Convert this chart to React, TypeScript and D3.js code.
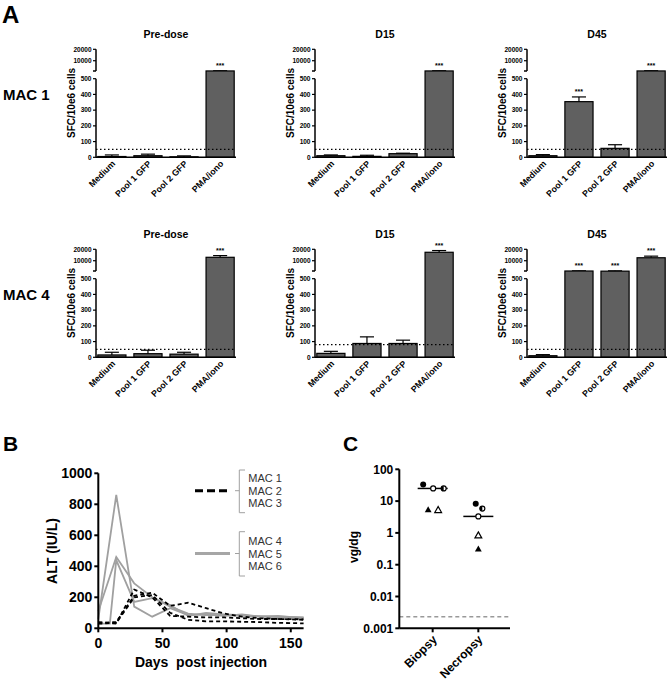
import React from "react";
import * as d3 from "d3";

const FONT = "'Liberation Sans', Arial, Helvetica, sans-serif";

// ---------- panel A : ELISpot bars ----------
const categories = ["Medium", "Pool 1 GFP", "Pool 2 GFP", "PMA/iono"];
const timepoints = ["Pre-dose", "D15", "D45"];
const animals = ["MAC 1", "MAC 4"];

const mac1PreDose = [5, 10, 3, 1050];
const mac1PreDoseErr = [10, 10, 6, 150];
const mac1D15 = [10, 6, 23, 1050];
const mac1D15Err = [5, 7, 3, 150];
const mac1D45 = [10, 354, 57, 1050];
const mac1D45Err = [7, 30, 23, 150];
const mac4PreDose = [15, 23, 20, 13000];
const mac4PreDoseErr = [17, 22, 12, 1500];
const mac4D15 = [25, 88, 88, 17400];
const mac4D15Err = [13, 42, 21, 1500];
const mac4D45 = [10, 1000, 990, 12600];
const mac4D45Err = [7, 150, 150, 1400];

const mac1Stars = [[0, 0, 0, 1], [0, 0, 0, 1], [0, 1, 0, 1]];
const mac4Stars = [[0, 0, 0, 1], [0, 0, 0, 1], [0, 1, 1, 1]];
const mac1Cutoff = [50, 50, 50];
const mac4Cutoff = [50, 80, 50];

const lowerTicks = [0, 100, 200, 300, 400, 500];
const upperTicks = [10000, 20000];

// ---------- panel B : ALT ----------
const mac1Days = [0, 14, 28, 42, 56, 70, 84, 98, 112, 126, 140, 160];
const mac1Alt = [40, 30, 250, 200, 80, 75, 70, 70, 65, 60, 60, 55];
const mac2Days = [0, 14, 28, 42, 56, 70, 84, 98, 112, 126, 140, 160];
const mac2Alt = [35, 40, 210, 230, 145, 165, 130, 95, 75, 65, 60, 58];
const mac3Days = [0, 14, 28, 42, 56, 70, 84, 98, 112, 126, 140, 160];
const mac3Alt = [30, 35, 200, 215, 100, 55, 45, 45, 42, 40, 35, 32];
const mac4Days = [0, 14, 28, 42, 56, 70, 84, 98, 112, 126, 140, 160];
const mac4Alt = [60, 860, 140, 75, 130, 85, 90, 80, 90, 75, 72, 68];
const mac5Days = [0, 14, 28, 42, 56, 70, 84, 98, 112, 126, 140, 160];
const mac5Alt = [110, 460, 290, 200, 140, 95, 85, 85, 80, 78, 75, 70];
const mac6Days = [0, 9, 14, 28, 42, 56, 70, 84, 98, 112, 126, 140, 160];
const mac6Alt = [30, 30, 440, 170, 195, 150, 80, 100, 90, 85, 75, 80, 65];
const altTicks = [0, 200, 400, 600, 800, 1000];
const dayTicks = [0, 50, 100, 150];

// ---------- panel C : vector genomes ----------
const tissues = ["Biopsy", "Necropsy"];
const biopsyVg = [33, 25, 25, 5.3, 5.2];
const necropsyVg = [8.3, 5.8, 3.3, 0.83, 0.31];
const biopsyShapes = ["dot", "ring", "half", "tri", "otri"];
const necropsyShapes = ["dot", "half", "ring", "otri", "tri"];
const biopsyJitter = [-9.5, 0.5, 11, -4.5, 5.5];
const necropsyJitter = [-2.6, 4, 0, 0, 0];
const vgTicks = [0.001, 0.01, 0.1, 1, 10, 100];
const vgTickLabels = ["0.001", "0.01", "0.1", "1", "10", "100"];
const detectionLimit = 0.0023;

function makeBreakY(off: number) {
  const lower = d3.scaleLinear().domain([0, 500]).range([157.3 + off, 78.7 + off]);
  const gap = d3.scaleLinear().domain([500, 1000]).range([78.7 + off, 71 + off]);
  const upper = d3.scaleLinear().domain([1000, 20000]).range([71 + off, 49.3 + off]);
  return (v: number) => (v <= 500 ? lower(v) : v <= 1000 ? gap(v) : upper(v));
}

// rotated label
function Rot({ x, y, angle, children, ...rest }: any) {
  return (
    <g transform={`translate(${x.toFixed(2)},${y.toFixed(2)})`}>
      <g transform={`rotate(${angle})`}>
        <text x={0} y={0} {...rest}>
          {children}
        </text>
      </g>
    </g>
  );
}

function BarPanel({ x0, off, title, values, errors, stars, cutoff }: any) {
  const w = 140;
  const x = d3.scaleBand().domain(categories).range([x0, x0 + w]).paddingInner(0.22).paddingOuter(0.05);
  const y = makeBreakY(off);
  const bw = x.bandwidth();
  const y0 = y(0);
  return (
    <g>
      <text x={x0 + w / 2} y={off + 38} textAnchor="middle" fontSize={10.5} fontWeight="bold">
        {title}
      </text>
      {categories.map((c, i) => {
        const cx = (x(c) as number) + bw / 2;
        const top = y(values[i]);
        const cap = y(values[i] + errors[i]);
        return (
          <g key={c}>
            <line x1={cx} x2={cx} y1={top} y2={cap} stroke="#000" strokeWidth={1.2} />
            <line x1={cx - bw * 0.25} x2={cx + bw * 0.25} y1={cap} y2={cap} stroke="#000" strokeWidth={1.2} />
            <rect x={x(c)} y={top} width={bw} height={y0 - top} fill="#606060" stroke="#000" strokeWidth={1.2} />
            {stars[i] ? (
              <text x={cx} y={cap - 3} textAnchor="middle" fontSize={7} fontWeight="bold">
                ***
              </text>
            ) : null}
            <Rot x={cx + 4} y={y0 + 7} angle={-45} textAnchor="end" fontSize={8.8} fontWeight="bold">
              {c}
            </Rot>
          </g>
        );
      })}
      <line x1={x0} x2={x0 + w} y1={y(cutoff)} y2={y(cutoff)} stroke="#000" strokeWidth={1.3} strokeDasharray="1.5,2.5" />
      {/* broken y axis */}
      <line x1={x0} x2={x0} y1={y(20000)} y2={y(1000)} stroke="#000" strokeWidth={1.5} />
      <line x1={x0} x2={x0} y1={y(500)} y2={y0} stroke="#000" strokeWidth={1.5} />
      <line x1={x0 - 3} x2={x0} y1={y(1000)} y2={y(1000)} stroke="#000" strokeWidth={1.5} />
      <line x1={x0} x2={x0 + w} y1={y0} y2={y0} stroke="#000" strokeWidth={1.5} />
      {[...lowerTicks, ...upperTicks].map((t) => (
        <g key={t}>
          <line x1={x0 - 3} x2={x0} y1={y(t)} y2={y(t)} stroke="#000" strokeWidth={1.2} />
          <text x={x0 - 4.5} y={y(t) + 2.3} textAnchor="end" fontSize={6.5} fontWeight="bold">
            {t}
          </text>
        </g>
      ))}
      <Rot x={x0 - 21} y={off + 103} angle={-90} textAnchor="middle" fontSize={10} fontWeight="bold">
        SFC/10e6 cells
      </Rot>
    </g>
  );
}

function PanelA() {
  const cols = [96, 315, 527];
  const mac1 = [mac1PreDose, mac1D15, mac1D45];
  const mac1E = [mac1PreDoseErr, mac1D15Err, mac1D45Err];
  const mac4 = [mac4PreDose, mac4D15, mac4D45];
  const mac4E = [mac4PreDoseErr, mac4D15Err, mac4D45Err];
  const rows = [
    { v: mac1, e: mac1E, s: mac1Stars, c: mac1Cutoff },
    { v: mac4, e: mac4E, s: mac4Stars, c: mac4Cutoff },
  ];
  return (
    <g>
      <text x={2} y={23} fontSize={24} fontWeight="bold">A</text>
      {rows.map((r, ri) => (
        <g key={ri}>
          <text x={3} y={100 + ri * 200} fontSize={15} fontWeight="bold">
            {animals[ri]}
          </text>
          {timepoints.map((t, ti) => (
            <BarPanel
              key={t}
              x0={cols[ti]}
              off={ri * 200}
              title={t}
              values={r.v[ti]}
              errors={r.e[ti]}
              stars={r.s[ti]}
              cutoff={r.c[ti]}
            />
          ))}
        </g>
      ))}
    </g>
  );
}

function PanelB() {
  const x = d3.scaleLinear().domain([0, 160]).range([98.3, 303.6]);
  const y = d3.scaleLinear().domain([0, 1000]).range([628.3, 473.3]);
  const line = d3
    .line<[number, number]>()
    .x((d) => x(d[0]))
    .y((d) => y(d[1]));
  const dashed = [
    [mac1Days, mac1Alt],
    [mac2Days, mac2Alt],
    [mac3Days, mac3Alt],
  ];
  const solid = [
    [mac4Days, mac4Alt],
    [mac5Days, mac5Alt],
    [mac6Days, mac6Alt],
  ];
  const toPts = (d: number[], v: number[]) => d.map((k, i) => [k, v[i]] as [number, number]);
  const legend = (yc: number, y1: number, y2: number, names: string[], solidLine: boolean) => (
    <g>
      <line
        x1={195}
        x2={230}
        y1={yc}
        y2={yc}
        stroke={solidLine ? "#a6a6a6" : "#000"}
        strokeWidth={3}
        strokeDasharray={solidLine ? undefined : "8,4"}
      />
      <path d={`M245,${y1}H239.3V${y2}H245M235,${yc}H239.3`} fill="none" stroke="#a0a0a0" strokeWidth={1} />
      {names.map((n, i) => (
        <text key={n} x={248.3} y={yc - 12.3 + i * 12.3 + 4} fontSize={11} fill="#333">
          {n}
        </text>
      ))}
    </g>
  );
  return (
    <g>
      <text x={3} y={451} fontSize={21} fontWeight="bold">B</text>
      {solid.map(([d, v], i) => (
        <path key={"s" + i} d={line(toPts(d, v)) as string} fill="none" stroke="#a0a0a0" strokeWidth={1.8} />
      ))}
      {dashed.map(([d, v], i) => (
        <path key={"d" + i} d={line(toPts(d, v)) as string} fill="none" stroke="#000" strokeWidth={1.8} strokeDasharray="4,3" />
      ))}
      <line x1={x(0)} x2={x(0)} y1={y(1000)} y2={y(0)} stroke="#000" strokeWidth={2} />
      <line x1={x(0)} x2={x(160)} y1={y(0)} y2={y(0)} stroke="#000" strokeWidth={2} />
      {altTicks.map((t) => (
        <g key={t}>
          <line x1={x(0) - 4} x2={x(0)} y1={y(t)} y2={y(t)} stroke="#000" strokeWidth={2} />
          <text x={x(0) - 6} y={y(t) + 5} textAnchor="end" fontSize={14} fontWeight="bold">
            {t}
          </text>
        </g>
      ))}
      {dayTicks.map((t) => (
        <g key={t}>
          <line x1={x(t)} x2={x(t)} y1={y(0)} y2={y(0) + 4} stroke="#000" strokeWidth={2} />
          <text x={x(t)} y={y(0) + 20} textAnchor="middle" fontSize={14} fontWeight="bold">
            {t}
          </text>
        </g>
      ))}
      <Rot x={57} y={551} angle={-90} textAnchor="middle" fontSize={14} fontWeight="bold">
        ALT (IU/L)
      </Rot>
      <text x={201} y={667} textAnchor="middle" fontSize={14} fontWeight="bold" style={{ whiteSpace: "pre" }}>
        {"Days  post injection"}
      </text>
      {legend(490.7, 470, 512.7, ["MAC 1", "MAC 2", "MAC 3"], false)}
      {legend(553.5, 531.7, 576, ["MAC 4", "MAC 5", "MAC 6"], true)}
    </g>
  );
}

function Marker({ shape, cx, cy }: any) {
  const r = 3;
  if (shape === "dot") return <circle cx={cx} cy={cy} r={r} fill="#000" />;
  if (shape === "ring") return <circle cx={cx} cy={cy} r={r - 0.5} fill="#fff" stroke="#000" strokeWidth={1.2} />;
  if (shape === "half")
    return (
      <g>
        <circle cx={cx} cy={cy} r={r - 0.5} fill="#fff" stroke="#000" strokeWidth={1.2} />
        <path d={`M${cx},${cy - r + 0.5}A${r - 0.5},${r - 0.5} 0 0 0 ${cx},${cy + r - 0.5}Z`} fill="#000" />
      </g>
    );
  const tri = `M${cx},${cy - 3.6}L${cx + 3.4},${cy + 2.4}L${cx - 3.4},${cy + 2.4}Z`;
  if (shape === "tri") return <path d={tri} fill="#000" />;
  return <path d={tri} fill="#fff" stroke="#000" strokeWidth={1.2} />;
}

function PanelC() {
  const y = d3.scaleLog().domain([0.001, 100]).range([628.3, 469.3]);
  const x = d3.scalePoint().domain(tissues).range([387, 524]).padding(1);
  const x0 = 399.3;
  const x1 = 510;
  const groups = [
    { name: tissues[0], v: biopsyVg, s: biopsyShapes, j: biopsyJitter },
    { name: tissues[1], v: necropsyVg, s: necropsyShapes, j: necropsyJitter },
  ];
  return (
    <g>
      <text x={343} y={451} fontSize={21} fontWeight="bold">C</text>
      <line x1={x0} x2={x1} y1={y(detectionLimit)} y2={y(detectionLimit)} stroke="#999" strokeWidth={1.5} strokeDasharray="4,3" />
      {groups.map((g) => {
        const cx = x(g.name) as number;
        const med = d3.median(g.v) as number;
        return (
          <g key={g.name}>
            <line x1={cx - 15} x2={cx + 15} y1={y(med)} y2={y(med)} stroke="#000" strokeWidth={1.5} />
            {g.v.map((v, i) => (
              <Marker key={i} shape={g.s[i]} cx={cx + g.j[i]} cy={y(v)} />
            ))}
            <line x1={cx} x2={cx} y1={y(0.001)} y2={y(0.001) + 4} stroke="#000" strokeWidth={2} />
            <Rot x={cx + 5} y={y(0.001) + 12} angle={-45} textAnchor="end" fontSize={12} fontWeight="bold">
              {g.name}
            </Rot>
          </g>
        );
      })}
      <line x1={x0} x2={x0} y1={y(100)} y2={y(0.001)} stroke="#000" strokeWidth={2} />
      <line x1={x0} x2={x1} y1={y(0.001)} y2={y(0.001)} stroke="#000" strokeWidth={2} />
      {vgTicks.map((t, i) => (
        <g key={t}>
          <line x1={x0 - 4} x2={x0} y1={y(t)} y2={y(t)} stroke="#000" strokeWidth={2} />
          <text x={x0 - 6} y={y(t) + 4.3} textAnchor="end" fontSize={12} fontWeight="bold">
            {vgTickLabels[i]}
          </text>
        </g>
      ))}
      <Rot x={358} y={547} angle={-90} textAnchor="middle" fontSize={12} fontWeight="bold">
        vg/dg
      </Rot>
    </g>
  );
}

export default function App() {
  return (
    <svg
      width={670}
      height={685}
      style={{ position: "absolute", left: 0, top: 0, background: "#fff" }}
      fontFamily={FONT}
    >
      <PanelA />
      <PanelB />
      <PanelC />
    </svg>
  );
}
